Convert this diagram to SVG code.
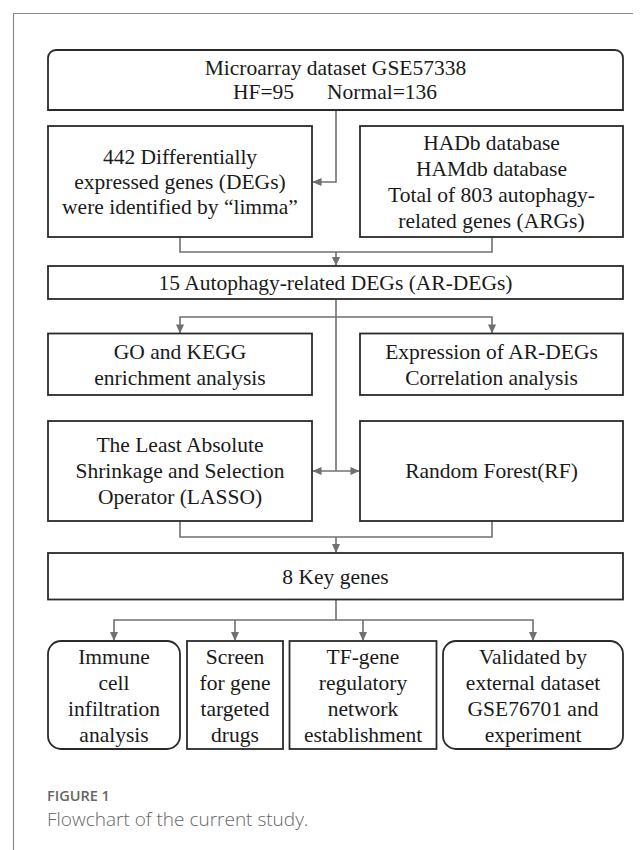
<svg xmlns="http://www.w3.org/2000/svg" width="642" height="850" viewBox="0 0 642 850">
<defs>
<style>
.box{fill:#fff;stroke:#2a2a2a;stroke-width:1.8}
.t{font-family:"Liberation Serif","Times New Roman",serif;font-size:21.5px;fill:#1a1a1a;text-anchor:middle}
.c{fill:none;stroke:#707070;stroke-width:1.6}
.frame{fill:none;stroke:#8a8a8a;stroke-width:1.2}
.cap1{font-family:"Open Sans","Noto Sans",sans-serif;font-size:14.5px;font-weight:600;fill:#666}
.cap2{font-family:"Open Sans","Noto Sans",sans-serif;font-size:19px;font-weight:300;fill:#666}
</style>
<marker id="ah" viewBox="0 0 10 10" refX="9.5" refY="5" markerWidth="9" markerHeight="9" markerUnits="userSpaceOnUse" orient="auto-start-reverse">
<path d="M0,0.5 L10,5 L0,9.5 z" fill="#707070"/>
</marker>
</defs>
<rect width="642" height="850" fill="#fff"/>
<path class="frame" d="M13.5,850 V13.5 H633"/>

<g id="connectors">
<path class="c" d="M336,110 V182 H313" marker-end="url(#ah)"/>
<path class="c" d="M180,237 V252 H492 V237"/>
<path class="c" d="M336,252 V265.5" marker-end="url(#ah)"/>
<path class="c" d="M336,299 V471"/>
<path class="c" d="M180,333 V317 H492 V333" marker-start="url(#ah)" marker-end="url(#ah)"/>
<path class="c" d="M313,471 H359" marker-start="url(#ah)" marker-end="url(#ah)"/>
<path class="c" d="M180,521 V537 H492 V521"/>
<path class="c" d="M336,537 V552.5" marker-end="url(#ah)"/>
<path class="c" d="M336,599.5 V620"/>
<path class="c" d="M114,640.5 V620 H533 V640.5" marker-start="url(#ah)" marker-end="url(#ah)"/>
<path class="c" d="M235,620 V640.5" marker-end="url(#ah)"/>
<path class="c" d="M363,620 V640.5" marker-end="url(#ah)"/>
</g>

<g id="n-microarray">
<path class="box" d="M48,110 V58 A8,8 0 0 1 56,50 H615 A8,8 0 0 1 623,58 V110 Z"/>
<text class="t" x="335.5" y="75">Microarray dataset GSE57338</text>
<text class="t" y="99" style="text-anchor:start"><tspan x="233">HF=95</tspan><tspan x="327">Normal=136</tspan></text>
</g>

<g id="n-degs">
<rect class="box" x="48" y="126" width="264" height="111"/>
<text class="t" x="180" y="164">442 Differentially</text>
<text class="t" x="180" y="189">expressed genes (DEGs)</text>
<text class="t" x="180" y="214">were identified by “limma”</text>
</g>

<g id="n-args">
<rect class="box" x="360" y="126" width="263" height="111"/>
<text class="t" x="491.5" y="150">HADb database</text>
<text class="t" x="491.5" y="176">HAMdb database</text>
<text class="t" x="491.5" y="202">Total of 803 autophagy-</text>
<text class="t" x="491.5" y="228">related genes (ARGs)</text>
</g>

<g id="n-ardegs">
<rect class="box" x="48" y="266" width="575" height="33"/>
<text class="t" x="335.5" y="290">15 Autophagy-related DEGs (AR-DEGs)</text>
</g>

<g id="n-go">
<rect class="box" x="48" y="333.5" width="264" height="61.5"/>
<text class="t" x="180" y="358.5">GO and KEGG</text>
<text class="t" x="180" y="384.5">enrichment analysis</text>
</g>

<g id="n-expr">
<rect class="box" x="360" y="333.5" width="263" height="61.5"/>
<text class="t" x="491.5" y="358.5">Expression of AR-DEGs</text>
<text class="t" x="491.5" y="384.5">Correlation analysis</text>
</g>

<g id="n-lasso">
<rect class="box" x="48" y="421" width="264" height="100"/>
<text class="t" x="180" y="452">The Least Absolute</text>
<text class="t" x="180" y="478">Shrinkage and Selection</text>
<text class="t" x="180" y="504">Operator (LASSO)</text>
</g>

<g id="n-rf">
<rect class="box" x="360" y="421" width="263" height="100"/>
<text class="t" x="491.5" y="478">Random Forest(RF)</text>
</g>

<g id="n-key">
<rect class="box" x="48" y="553" width="575" height="46.5"/>
<text class="t" x="335.5" y="584">8 Key genes</text>
</g>

<g id="n-immune">
<rect class="box" x="48" y="641" width="132" height="108" rx="13" ry="13"/>
<text class="t" x="114" y="664">Immune</text>
<text class="t" x="114" y="690">cell</text>
<text class="t" x="114" y="716">infiltration</text>
<text class="t" x="114" y="742">analysis</text>
</g>

<g id="n-drugs">
<rect class="box" x="187" y="641" width="96" height="108"/>
<text class="t" x="235" y="664">Screen</text>
<text class="t" x="235" y="690">for gene</text>
<text class="t" x="235" y="716">targeted</text>
<text class="t" x="235" y="742">drugs</text>
</g>

<g id="n-tf">
<rect class="box" x="289.5" y="641" width="147" height="108"/>
<text class="t" x="363" y="664">TF-gene</text>
<text class="t" x="363" y="690">regulatory</text>
<text class="t" x="363" y="716">network</text>
<text class="t" x="363" y="742">establishment</text>
</g>

<g id="n-valid">
<rect class="box" x="443" y="641" width="180" height="108" rx="13" ry="13"/>
<text class="t" x="533" y="664">Validated by</text>
<text class="t" x="533" y="690">external dataset</text>
<text class="t" x="533" y="716">GSE76701 and</text>
<text class="t" x="533" y="742">experiment</text>
</g>

<g id="caption">
<text class="cap1" x="47" y="801">FIGURE 1</text>
<text class="cap2" x="47" y="826">Flowchart of the current study.</text>
</g>
</svg>
